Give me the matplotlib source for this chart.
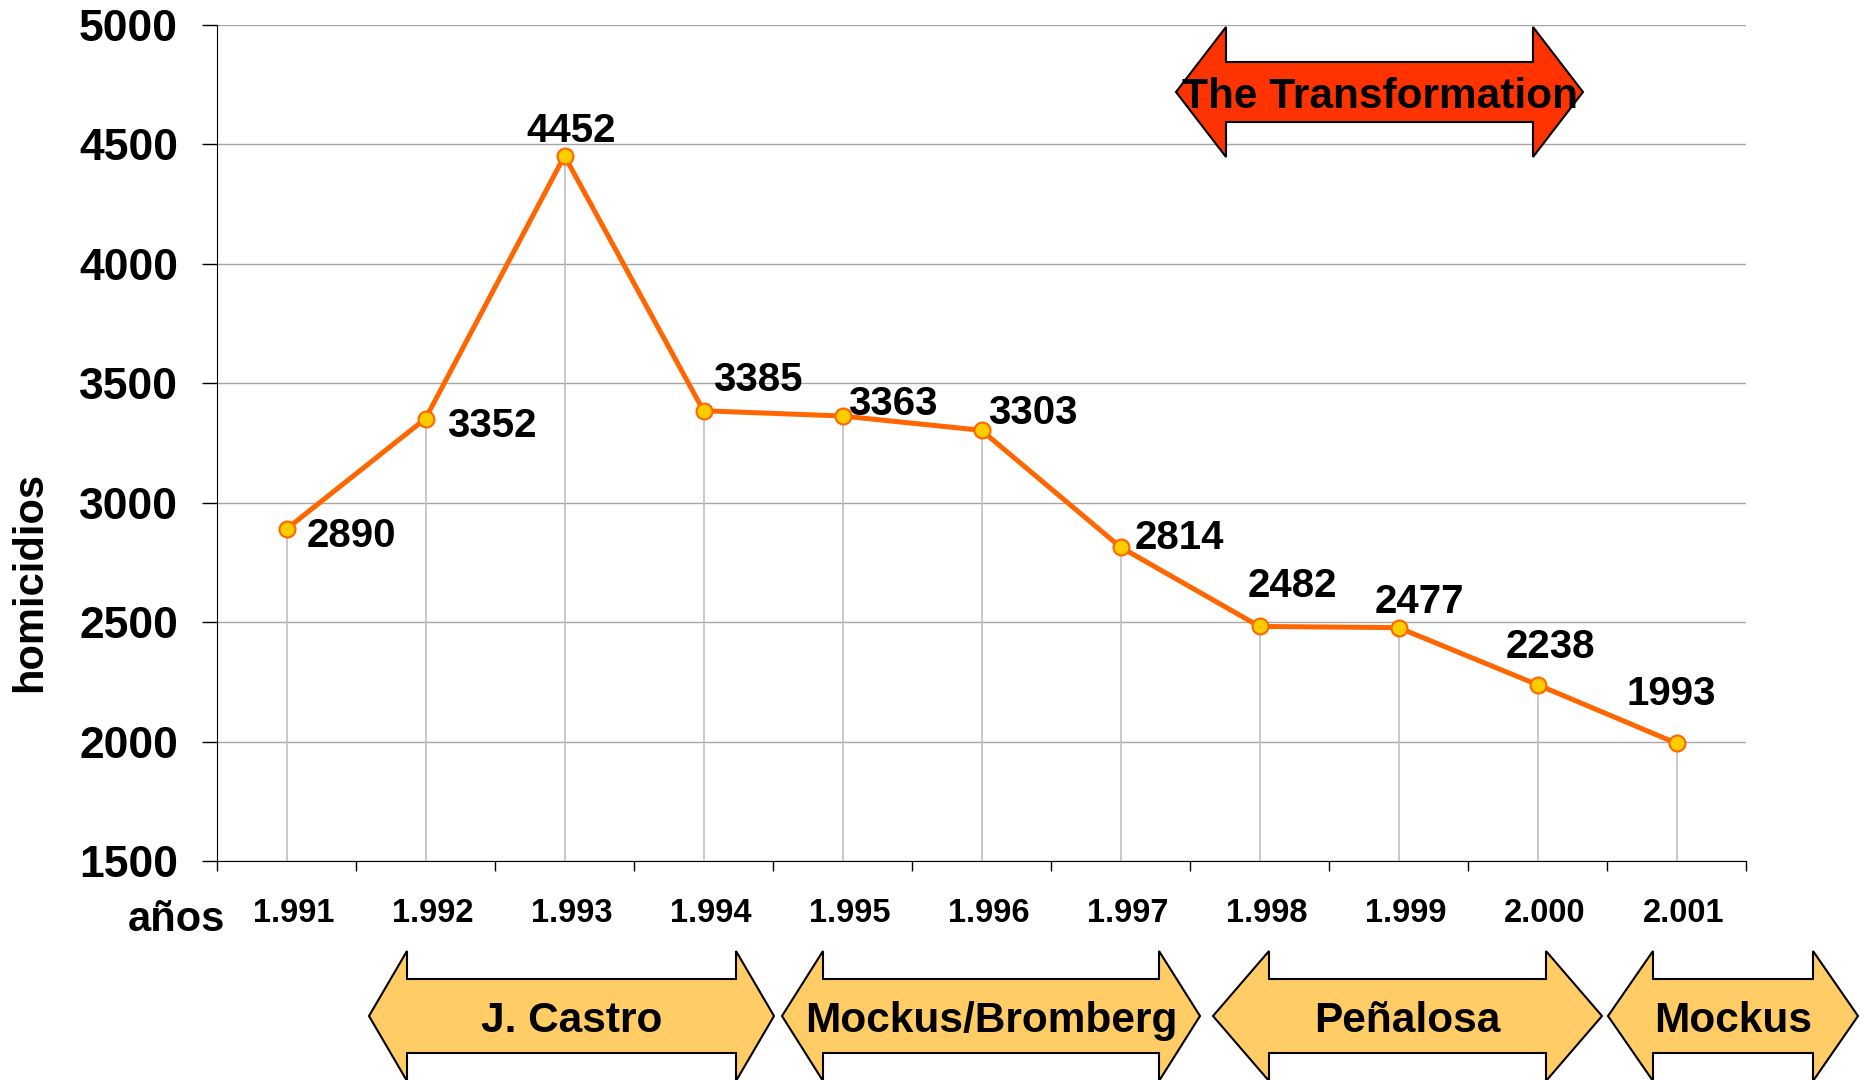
import numpy as np
import matplotlib
matplotlib.use('Agg')
import matplotlib.pyplot as plt
from matplotlib.patches import Polygon
from matplotlib.transforms import ScaledTranslation

plt.rcParams['font.family'] = ['Liberation Sans', 'DejaVu Sans']
plt.rcParams['font.weight'] = 'bold'

years = ['1.991', '1.992', '1.993', '1.994', '1.995', '1.996',
         '1.997', '1.998', '1.999', '2.000', '2.001']
homicidios = [2890, 3352, 4452, 3385, 3363, 3303, 2814, 2482, 2477, 2238, 1993]

# label centre offsets from each point, in pixels (dx, dy up)
label_offsets = [(65, -7), (66, -7), (7, 25), (54, 31), (50, 12), (51, 17),
                 (59, 9), (33, 40), (21, 26), (13, 38), (-5, 49)]

# periods shown as double arrows under the axis
periods = ['J. Castro', 'Mockus/Bromberg', 'Peñalosa', 'Mockus']
period_span = [(369, 774, 38), (782, 1200, 41), (1213, 1602, 56), (1608, 1858, 45)]

W, H = 1868, 1080
fig = plt.figure(figsize=(W / 100, H / 100), dpi=100)
ax = fig.add_axes([217 / W, 1 - 861 / H, (1746 - 217) / W, (861 - 25) / H])

x = np.arange(len(years))
ax.set_xlim(-0.5, len(years) - 0.5)
ax.set_ylim(1500, 5000)

ax.vlines(x, 1500, homicidios, color='#c0c0c0', lw=1.2, zorder=1)
ax.plot(x, homicidios, color='#ff6600', lw=3.6, marker='o', ms=11.5,
        mfc='#ffcc00', mec='#ff6600', mew=1.5, zorder=3, clip_on=False)

for xi, v, (dx, dy) in zip(x, homicidios, label_offsets):
    ax.annotate(str(v), (xi, v), xytext=(dx, dy), textcoords='offset pixels',
                ha='center', va='center', fontsize=29, fontweight='bold')

ax.set_yticks(range(1500, 5001, 500))
ax.yaxis.grid(True, color='#a6a6a6', lw=1)
ax.set_axisbelow(True)
for s in ['top', 'right']:
    ax.spines[s].set_visible(False)

ax.set_xticks(np.arange(-0.5, len(years), 1))
ax.set_xticklabels([])
ax.set_xticks(x, minor=True)
ax.set_xticklabels(years, minor=True)
ax.tick_params(axis='y', length=11, width=1, pad=17, labelsize=32)
ax.tick_params(axis='x', which='major', length=7, width=1)
ax.tick_params(axis='x', which='minor', length=0, pad=27, labelsize=23.5)
shift = ScaledTranslation(7 / 100, 0, fig.dpi_scale_trans)
for lbl in ax.get_xticklabels(minor=True):
    lbl.set_transform(lbl.get_transform() + shift)

fig.text(30 / W, 1 - 582 / H, 'homicidios', rotation=90, ha='center',
         va='center', fontsize=30, fontweight='bold')
fig.text(176 / W, 1 - 920 / H, 'años', ha='center', va='center',
         fontsize=30, fontweight='bold')


def double_arrow(x0, x1, yc, head, body_h, head_h, color, label):
    pts = [(x0, yc), (x0 + head, yc - head_h), (x0 + head, yc - body_h),
           (x1 - head, yc - body_h), (x1 - head, yc - head_h), (x1, yc),
           (x1 - head, yc + head_h), (x1 - head, yc + body_h),
           (x0 + head, yc + body_h), (x0 + head, yc + head_h)]
    pts = [(px / W, 1 - py / H) for px, py in pts]
    fig.patches.append(Polygon(pts, closed=True, fc=color, ec='black', lw=1.5,
                               transform=fig.transFigure, zorder=5))
    fig.text((x0 + x1) / 2 / W, 1 - (yc + 5) / H, label, ha='center',
             va='center', fontsize=30.5, fontweight='bold', zorder=6)


double_arrow(1176, 1583, 92, 50, 30, 65, '#ff3300', 'The Transformation')
for name, (x0, x1, head) in zip(periods, period_span):
    double_arrow(x0, x1, 1016, head, 37, 65, '#ffcc66', name)

fig.savefig('out.png', dpi=100)
